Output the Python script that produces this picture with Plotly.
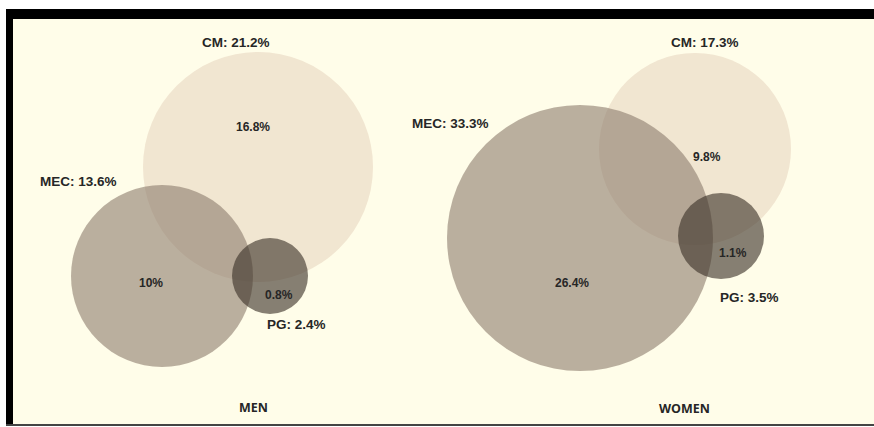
import plotly.graph_objects as go

# ---- data ----
panels = ["MEN", "WOMEN"]
sets = ["CM", "MEC", "PG"]
men_totals = [21.2, 13.6, 2.4]        # CM, MEC, PG
women_totals = [17.3, 33.3, 3.5]
men_inner = ["16.8%", "10%", "0.8%"]   # inner region labels
women_inner = ["9.8%", "26.4%", "1.1%"]

# ---- layout geometry (pixel-like coordinate space) ----
W, H = 874, 427
geom = {
    "MEN": {
        "circles": {"CM": (258, 167, 115), "MEC": (162, 276, 91), "PG": (270, 276, 38)},
        "total_pos": {"CM": (236, 42), "MEC": (78, 181), "PG": (296, 324)},
        "inner_pos": {"CM": (253, 127), "MEC": (151, 283), "PG": (279, 295)},
        "title_pos": (253, 407),
    },
    "WOMEN": {
        "circles": {"CM": (695, 149, 96), "MEC": (580, 238, 133), "PG": (721, 236, 43)},
        "total_pos": {"CM": (705, 42), "MEC": (450, 123), "PG": (749, 297)},
        "inner_pos": {"CM": (707, 157), "MEC": (572, 283), "PG": (733, 253)},
        "title_pos": (684, 408),
    },
}
fills = {"CM": "rgba(215,188,165,0.36)", "MEC": "rgba(140,124,108,0.6)", "PG": "rgba(60,50,40,0.62)"}
BG = "#FFFDE9"
TXT = "#262626"
FONT = "Liberation Sans, Arial, sans-serif"

fig = go.Figure()
shapes = []
# frame
shapes.append(dict(type="rect", x0=13, x1=W, y0=19, y1=424, fillcolor=BG, line_width=0, layer="below"))
shapes.append(dict(type="rect", x0=6, x1=W, y0=9, y1=19, fillcolor="black", line_width=0, layer="below"))
shapes.append(dict(type="rect", x0=6, x1=13, y0=9, y1=426, fillcolor="black", line_width=0, layer="below"))
shapes.append(dict(type="rect", x0=6, x1=W, y0=424, y1=426, fillcolor="#444444", line_width=0, layer="below"))

annotations = []
for panel, totals, inner in [("MEN", men_totals, men_inner), ("WOMEN", women_totals, women_inner)]:
    g = geom[panel]
    for i, s in enumerate(sets):
        cx, cy, r = g["circles"][s]
        shapes.append(dict(type="circle", xref="x", yref="y", x0=cx - r, x1=cx + r, y0=cy - r, y1=cy + r,
                           fillcolor=fills[s], line_width=0, layer="above"))
        tx, ty = g["total_pos"][s]
        annotations.append(dict(x=tx, y=ty, text=f"{s}: {totals[i]}%", showarrow=False,
                                font=dict(family=FONT, size=13.5, color=TXT, weight="bold")))
        ix, iy = g["inner_pos"][s]
        annotations.append(dict(x=ix, y=iy, text=inner[i], showarrow=False,
                                font=dict(family=FONT, size=12, color=TXT, weight="bold")))
    tx, ty = g["title_pos"]
    annotations.append(dict(x=tx, y=ty, text=panel, showarrow=False,
                            font=dict(family="Open Sans, sans-serif", size=12.5, color=TXT, weight="bold")))

fig.update_layout(
    width=W, height=H, margin=dict(l=0, r=0, t=0, b=0),
    paper_bgcolor="white", plot_bgcolor="white",
    xaxis=dict(range=[0, W], visible=False, fixedrange=True),
    yaxis=dict(range=[H, 0], visible=False, fixedrange=True),
    shapes=shapes, annotations=annotations, showlegend=False,
)
fig.write_html("out.html", config={"displayModeBar": False, "staticPlot": True},
               post_script="document.body.style.margin='0';document.body.style.overflow='hidden';")
